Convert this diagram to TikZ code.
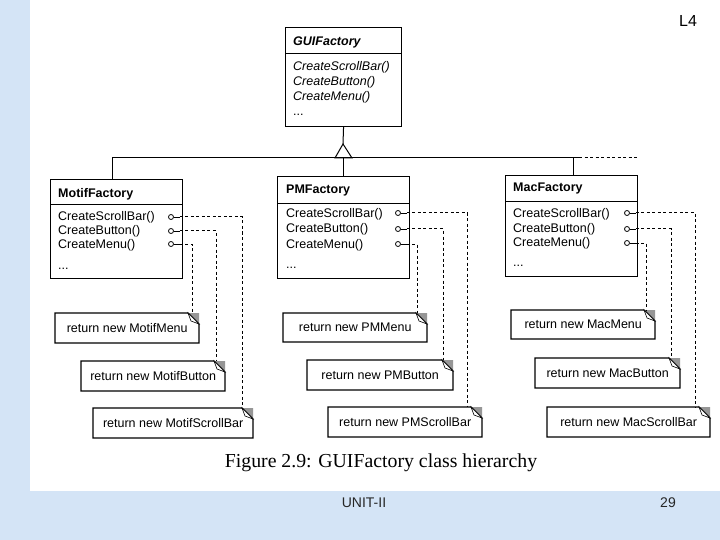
\documentclass[tikz,border=0pt]{standalone}
\usepackage{fontspec}
\setmainfont{Liberation Sans}
\newfontfamily\capfont{Liberation Serif}
\usetikzlibrary{calc}
\definecolor{bgblue}{RGB}{212,228,246}
\definecolor{earfill}{RGB}{150,150,150}
\tikzset{
  classbox/.style={draw, line width=1.1pt, anchor=north west, inner sep=0pt},
  mtext/.style={anchor=base west, inner sep=0pt, font=\fontsize{12.5}{14}\selectfont},
  ttext/.style={anchor=base west, inner sep=0pt, font=\fontsize{12.5}{14}\selectfont\bfseries},
  circ/.style={circle, draw, line width=0.8pt, inner sep=0pt, minimum size=5pt, fill=white},
  notebox/.style={anchor=north west, inner sep=0pt, font=\fontsize{12.5}{14}\selectfont},
  noteline/.style={line width=1.1pt},
  dsh/.style={line width=1pt, dash pattern=on 3pt off 2.5pt},
  stub/.style={line width=0.9pt},
  hier/.style={line width=1pt},
}
\newcommand{\mynote}[6]{%
  \node[notebox, minimum width={#4-#2}, minimum height={#5-#3}] (#1) at (#2,#3) {#6};
  \fill[earfill] (#4-11,#3) -- (#4,#3) -- (#4,#3+11) -- cycle;
  \draw[noteline] (#2,#3) -- (#4-11,#3) -- (#4,#3+11) -- (#4,#5) -- (#2,#5) -- cycle;
  \draw[line width=0.6pt, fill=white] (#4-11,#3) -- (#4-8,#3+8) -- (#4,#3+11) -- cycle;
}
\begin{document}
\begin{tikzpicture}[x=1pt,y=-1pt]
\fill[bgblue] (0,0) rectangle (720,540);
\fill[white] (30,0) rectangle (720,491);
\useasboundingbox (0,0) rectangle (720,540);

% ---------- GUIFactory ----------
\node[classbox, minimum width=116pt, minimum height=99pt] (gui) at (285,27) {};
\draw[line width=0.9pt] (285,53) -- (401,53);
\node[ttext, font=\fontsize{12.5}{14}\selectfont\bfseries\itshape] (guit) at (293,46) {GUIFactory};
\node[mtext, font=\fontsize{12.5}{14}\selectfont\itshape] (gui1) at (293,71) {CreateScrollBar()};
\node[mtext, font=\fontsize{12.5}{14}\selectfont\itshape] (gui2) at (293,86) {CreateButton()};
\node[mtext, font=\fontsize{12.5}{14}\selectfont\itshape] (gui3) at (293,101) {CreateMenu()};
\node[mtext] (gui4) at (293,116) {...};

% ---------- hierarchy ----------
\coordinate (tri) at (343,144);
\coordinate (hl) at (112,158);
\coordinate (hr) at (579,158);
\coordinate (hd) at (637,158);
\draw[hier] (gui.south) -- (tri);
\draw[hier, fill=white] (tri) -- (335,158) -- (352,158) -- cycle;
\draw[hier] (hl) -- (hr);
\draw[dsh] (hr) -- (hd);

% ---------- MotifFactory ----------
\node[classbox, minimum width=132pt, minimum height=99pt] (mf) at (50,179) {};
\draw[line width=0.9pt] (50,204) -- (182,204);
\node[ttext] (mft) at (58,197) {MotifFactory};
\node[mtext] (mf1) at (58,221) {CreateScrollBar()};
\node[mtext] (mf2) at (58,235) {CreateButton()};
\node[mtext] (mf3) at (58,248) {CreateMenu()};
\node[mtext] (mf4) at (58,269) {...};
\node[circ] (mfc1) at (171,217) {};
\node[circ] (mfc2) at (171,231) {};
\node[circ] (mfc3) at (171,244) {};
\draw[hier] (hl) -- (hl |- mf.north);

% ---------- PMFactory ----------
\node[classbox, minimum width=132pt, minimum height=102pt] (pm) at (277,176) {};
\draw[line width=0.9pt] (277,203) -- (409,203);
\node[ttext] (pmt) at (286,194) {PMFactory};
\node[mtext] (pm1) at (286,218) {CreateScrollBar()};
\node[mtext] (pm2) at (286,233) {CreateButton()};
\node[mtext] (pm3) at (286,248) {CreateMenu()};
\node[mtext] (pm4) at (286,268) {...};
\node[circ] (pmc1) at (398,213) {};
\node[circ] (pmc2) at (398,229) {};
\node[circ] (pmc3) at (398,244) {};
\draw[hier] (pm.north) -- (pm.north |- hl);

% ---------- MacFactory ----------
\node[classbox, minimum width=132pt, minimum height=101pt] (mac) at (505,175) {};
\draw[line width=0.9pt] (505,201) -- (637,201);
\node[ttext] (mact) at (513,192) {MacFactory};
\node[mtext] (mac1) at (513,218) {CreateScrollBar()};
\node[mtext] (mac2) at (513,233) {CreateButton()};
\node[mtext] (mac3) at (513,247) {CreateMenu()};
\node[mtext] (mac4) at (513,266) {...};
\node[circ] (macc1) at (627,213) {};
\node[circ] (macc2) at (627,229) {};
\node[circ] (macc3) at (627,243) {};
\draw[hier] (573,158) -- (573,175);

% ---------- notes ----------
\mynote{mfm}{55}{313}{199}{343}{return new MotifMenu}
\mynote{mfb}{81}{361}{225}{391}{return new MotifButton}
\mynote{mfs}{93}{408}{253}{438}{return new MotifScrollBar}
\mynote{pmm}{283}{313}{427}{342}{return new PMMenu}
\mynote{pmb}{307}{360}{453}{390}{return new PMButton}
\mynote{pms}{328}{407}{482}{437}{return new PMScrollBar}
\mynote{macm}{511}{310}{655}{339}{return new MacMenu}
\mynote{macb}{535}{358}{680}{388}{return new MacButton}
\mynote{macs}{547}{407}{710}{437}{return new MacScrollBar}

% ---------- connectors ----------
\draw[stub] (mfc1.east) -- ++(6,0) coordinate (mfs1);
\draw[stub] (mfc2.east) -- ++(6,0) coordinate (mfs2);
\draw[stub] (mfc3.east) -- ++(6,0) coordinate (mfs3);
\draw[dsh] (mfs1) -| ($(mfs.north east)+(-11,0)$);
\draw[dsh] (mfs2) -| ($(mfb.north east)+(-9,0)$);
\draw[dsh] (mfs3) -| ($(mfm.north east)+(-7,0)$);

\draw[stub] (pmc1.east) -- ++(6,0) coordinate (pms1);
\draw[stub] (pmc2.east) -- ++(6,0) coordinate (pms2);
\draw[stub] (pmc3.east) -- ++(6,0) coordinate (pms3);
\draw[dsh] (pms1) -| ($(pms.north east)+(-15,0)$);
\draw[dsh] (pms2) -| ($(pmb.north east)+(-10,0)$);
\draw[dsh] (pms3) -| ($(pmm.north east)+(-10,0)$);

\draw[stub] (macc1.east) -- ++(6,0) coordinate (macs1);
\draw[stub] (macc2.east) -- ++(6,0) coordinate (macs2);
\draw[stub] (macc3.east) -- ++(6,0) coordinate (macs3);
\draw[dsh] (macs1) -| ($(macs.north east)+(-15,0)$);
\draw[dsh] (macs2) -| ($(macb.north east)+(-9,0)$);
\draw[dsh] (macs3) -| ($(macm.north east)+(-9,0)$);

% ---------- captions ----------
\node[font=\capfont\fontsize{19.8}{22}\selectfont, inner sep=0pt] (cap) at (381,463) {Figure 2.9: GUIFactory class hierarchy};
\node[font=\fontsize{14}{16}\selectfont, text=black!85, inner sep=0pt] (unit) at (364,503) {UNIT-II};
\node[font=\fontsize{14}{16}\selectfont, text=black!85, inner sep=0pt] (num) at (668,503) {29};
\node[font=\fontsize{16}{18}\selectfont, inner sep=0pt] (l4) at (688,21) {L4};
\end{tikzpicture}
\end{document}
